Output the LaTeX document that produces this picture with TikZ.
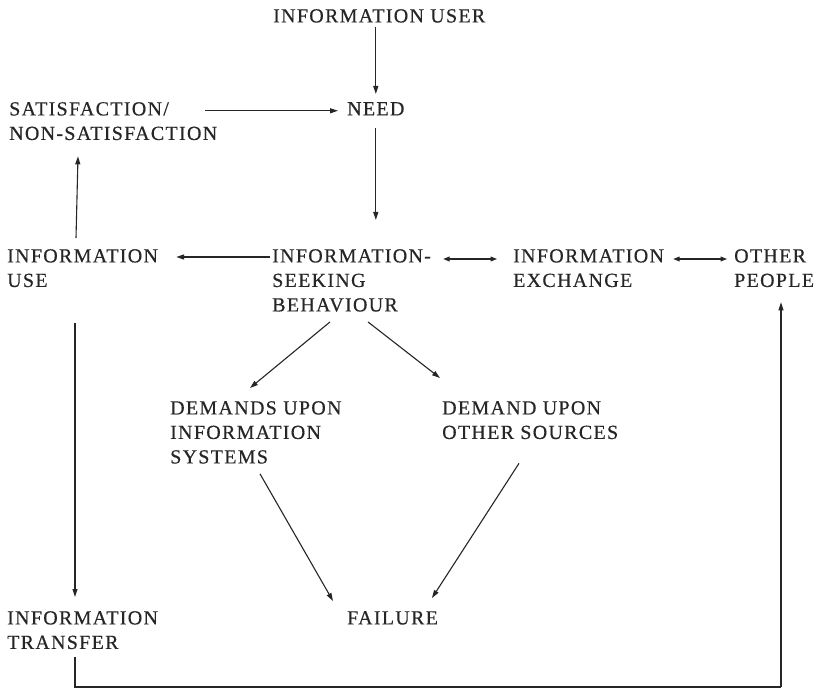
\documentclass[tikz,border=0pt]{standalone}
\usepackage{fontspec}
\setmainfont{Liberation Serif}[LetterSpace=6.5,FakeBold=0.4]
\usetikzlibrary{arrows.meta,calc}
\begin{document}
\begin{tikzpicture}[x=1pt,y=-1pt,
  lbl/.style={anchor=north west, inner sep=0pt, align=left, font=\fontsize{20}{24.5}\selectfont, text=black!85},
  arr/.style={line width=1.1pt, draw=black!85, -{Triangle[length=8pt,width=5pt]}},
  darr/.style={line width=1.1pt, draw=black!85, {Triangle[length=6.5pt,width=4.8pt]}-{Triangle[length=6.5pt,width=4.8pt]}},
  ln/.style={line width=1.1pt, draw=black!85}]
\useasboundingbox[fill=white] (0,0) rectangle (827,695);
\node[lbl] (user) at (273,9) {INFORMATION USER};
\node[lbl] (need) at (347,102) {NEED};
\node[lbl] (satis) at (9,102) {SATISFACTION/\\NON-SATISFACTION};
\node[lbl] (use) at (7,249) {INFORMATION\\USE};
\node[lbl] (seek) at (272,249) {INFORMATION-\\SEEKING\\BEHAVIOUR};
\node[lbl] (exch) at (513,249) {INFORMATION\\EXCHANGE};
\node[lbl] (other) at (734,249) {OTHER\\PEOPLE};
\node[lbl] (dis) at (170,401) {DEMANDS UPON\\INFORMATION\\SYSTEMS};
\node[lbl] (dos) at (442,401) {DEMAND UPON\\OTHER SOURCES};
\node[lbl] (fail) at (347,611) {FAILURE};
\node[lbl] (trans) at (7,611) {INFORMATION\\TRANSFER};
\coordinate (turnL) at (75,687);
\coordinate (turnR) at (781,687);
% user -> need
\draw[arr] ($(need.north |- user.south)+(0,4)$) -- ($(need.north)+(0,-8)$);
% satis -> need
\draw[arr] ($(satis.west |- need.west)+(196,2)$) -- ($(need.west)+(-9,2)$);
% need -> seek
\draw[arr] ($(need.south)+(0,12)$) -- ($(need.south |- seek.north)+(0,-29)$);
% use -> satis
\draw[arr] ($(use.north west)+(69,-11)$) -- ($(satis.south west)+(69,16)$);
% seek -> use
\draw[arr] ($(seek.north west)+(-2,8)$) -- ($(use.north east)+(18,8)$);
% seek <-> exch
\draw[darr] ($(seek.north east)+(12,10)$) -- ($(exch.north west)+(-16,10)$);
% exch <-> other
\draw[darr] ($(exch.north east)+(9,10)$) -- ($(other.north west)+(-7,10)$);
% seek -> demands
\draw[arr] ($(seek.south west)+(58,10)$) -- ($(dis.north west)+(80,-13)$);
\draw[arr] ($(seek.south west)+(96,10)$) -- ($(dos.north west)+(-2,-23)$);
% demands -> failure
\draw[arr] ($(dis.south west)+(90,10)$) -- ($(fail.north west)+(-14,-10)$);
\draw[arr] ($(dos.south west)+(77,24)$) -- ($(fail.north west)+(85,-13)$);
% use -> transfer
\draw[arr] ($(use.south west)+(68,36)$) -- ($(trans.north west)+(68,-14)$);
% transfer -> other
\draw[ln] ($(trans.south west)+(68,8)$) -- (turnL) -- (turnR);
\draw[arr] (turnR) -- ($(other.south west)+(47,15)$);
\end{tikzpicture}
\end{document}
